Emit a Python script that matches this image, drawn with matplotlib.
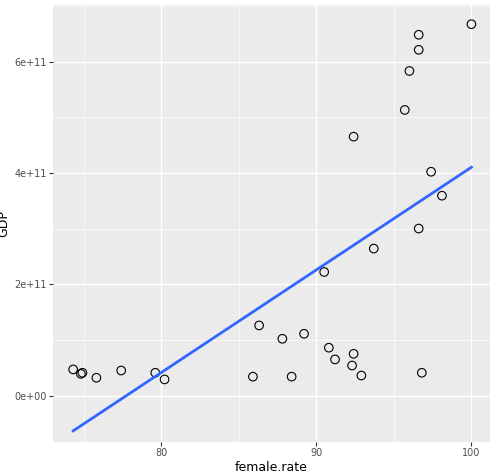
import numpy as np
import matplotlib.pyplot as plt

female_rate = np.array([74.3, 74.8, 74.9, 75.8, 77.4, 79.6, 80.2, 85.9, 86.3, 87.8,
                        88.4, 89.2, 90.5, 90.8, 91.2, 92.3, 92.4, 92.4, 92.9, 93.7,
                        96.0, 95.7, 96.6, 96.6, 96.6, 96.8, 97.4, 98.1, 100.0])
gdp = np.array([0.47, 0.39, 0.41, 0.32, 0.45, 0.41, 0.29, 0.34, 1.26, 1.02,
                0.34, 1.11, 2.22, 0.86, 0.65, 0.54, 0.75, 4.65, 0.36, 2.64,
                5.83, 5.13, 6.48, 6.21, 3.00, 0.41, 4.02, 3.59, 6.67]) * 1e11

fig, ax = plt.subplots(figsize=(5, 4.71), dpi=100)
fig.subplots_adjust(left=0.106, right=0.98, top=0.99, bottom=0.062)
ax.set_facecolor('#EBEBEB')
for s in ax.spines.values():
    s.set_visible(False)

ax.set_xlim(73.0, 101.2)
ax.set_ylim(-0.83e11, 7.02e11)
ax.set_xticks([80, 90, 100])
ax.set_xticks([75, 85, 95], minor=True)
ax.set_yticks([0, 2e11, 4e11, 6e11])
ax.set_yticks([1e11, 3e11, 5e11, 7e11], minor=True)
ax.set_yticklabels(['0e+00', '2e+11', '4e+11', '6e+11'])
ax.grid(True, which='major', color='white', linewidth=1.0)
ax.grid(True, which='minor', color='white', linewidth=0.5)
ax.set_axisbelow(True)
ax.tick_params(which='both', length=3, pad=1.5, color='#333333', labelsize=7, labelcolor='#4D4D4D')
ax.tick_params(which='minor', length=0)

ax.scatter(female_rate, gdp, s=38, facecolors='none', edgecolors='black', linewidths=0.8, zorder=3)
m, b = np.polyfit(female_rate, gdp, 1)
xs = np.array([female_rate.min(), female_rate.max()])
ax.plot(xs, m * xs + b, color='#3366FF', linewidth=2, zorder=4)

ax.set_xlabel('female.rate', fontsize=9, labelpad=2)
ax.set_ylabel('GDP', fontsize=9, labelpad=3)
fig.savefig('out.png')
